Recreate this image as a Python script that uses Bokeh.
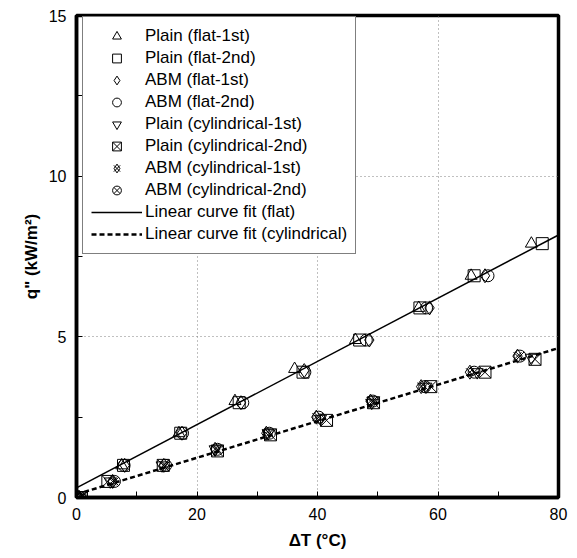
from bokeh.plotting import figure
from bokeh.models import Range1d, FixedTicker, Legend, LegendItem
from bokeh.embed import file_html
from bokeh.resources import INLINE

# ---- data ----
plain_flat1_x = [0.3, 7.5, 17.0, 26.3, 36.2, 46.3, 56.8, 65.5, 75.5]
plain_flat1_y = [0.0, 1.0, 2.0, 3.0, 4.0, 4.9, 5.9, 6.9, 7.9]
plain_flat2_x = [0.8, 7.8, 17.3, 27.0, 37.6, 47.0, 57.0, 66.0, 77.3]
plain_flat2_y = [0.0, 1.0, 2.0, 2.95, 3.9, 4.9, 5.9, 6.9, 7.9]
abm_flat1_x = [0.5, 8.0, 17.5, 27.3, 37.8, 48.6, 58.6, 67.8]
abm_flat1_y = [0.0, 1.0, 2.0, 2.95, 3.95, 4.9, 5.9, 6.9]
abm_flat2_x = [0.6, 7.9, 17.6, 27.6, 37.9, 48.1, 58.1, 68.3]
abm_flat2_y = [0.0, 1.0, 2.0, 2.95, 3.9, 4.9, 5.9, 6.9]

plain_cyl1_x = [0.2, 5.6, 14.2, 23.0, 31.8, 40.5, 49.0, 58.0, 66.5, 75.5]
plain_cyl1_y = [0.0, 0.5, 1.0, 1.5, 2.0, 2.45, 2.95, 3.45, 3.9, 4.35]
plain_cyl2_x = [0.8, 5.2, 14.4, 23.4, 32.2, 41.5, 49.3, 58.8, 67.8, 76.1]
plain_cyl2_y = [0.0, 0.5, 1.0, 1.45, 1.95, 2.4, 2.95, 3.45, 3.9, 4.3]
abm_cyl1_x = [0.3, 6.0, 14.5, 23.0, 31.5, 39.8, 48.8, 57.2, 65.3, 73.2]
abm_cyl1_y = [0.0, 0.5, 1.0, 1.5, 2.0, 2.5, 3.0, 3.45, 3.9, 4.4]
abm_cyl2_x = [0.5, 6.3, 14.8, 23.4, 32.0, 40.2, 49.2, 57.8, 66.0, 73.6]
abm_cyl2_y = [0.0, 0.5, 1.0, 1.5, 2.0, 2.5, 3.0, 3.45, 3.9, 4.4]

fit_x = [0, 80]
flat_fit_y = [0.3, 8.17]
cyl_fit_y = [0.1, 4.65]

x_ticks = [0, 20, 40, 60, 80]
x_minor = [10, 30, 50, 70]
y_ticks = [0, 5, 10, 15]
y_minor = [2.5, 7.5, 12.5]

FONT = "Liberation Sans"

p = figure(width=577, height=558, output_backend="svg", toolbar_location=None,
           x_range=Range1d(0, 80), y_range=Range1d(0, 15),
           min_border_left=76, min_border_right=19, min_border_top=15, min_border_bottom=61)

p.background_fill_color = "white"
p.outline_line_color = "black"
p.outline_line_width = 3.5

for ax in (p.xaxis[0], p.yaxis[0]):
    ax.axis_line_color = "black"
    ax.axis_line_width = 3.5
    ax.major_tick_in = 6
    ax.major_tick_out = 0
    ax.minor_tick_in = 6
    ax.minor_tick_out = 0
    ax.major_tick_line_color = "black"
    ax.minor_tick_line_color = "black"
    ax.major_tick_line_width = 1
    ax.minor_tick_line_width = 1
    ax.major_label_text_font = FONT
    ax.major_label_text_font_size = "16px"
    ax.major_label_text_color = "black"
    ax.axis_label_text_font = FONT
    ax.axis_label_text_font_size = "17px"
    ax.axis_label_text_font_style = "bold"
    ax.axis_label_text_color = "black"
    ax.major_label_standoff = 10

p.xaxis.ticker = FixedTicker(ticks=x_ticks, minor_ticks=x_minor)
p.yaxis.ticker = FixedTicker(ticks=y_ticks, minor_ticks=y_minor)
p.xaxis.axis_label = "ΔT (°C)"
p.yaxis.axis_label = 'q" (kW/m²)'
p.xaxis.axis_label_standoff = 8
p.yaxis.axis_label_standoff = 5

for g in (p.xgrid[0], p.ygrid[0]):
    g.grid_line_color = "#808080"
    g.grid_line_dash = "1 3"
    g.grid_line_width = 1
p.xgrid.ticker = FixedTicker(ticks=x_ticks)
p.ygrid.ticker = FixedTicker(ticks=y_ticks)

# fit lines
r_fit_flat = p.line(fit_x, flat_fit_y, line_color="black", line_width=1.5)
r_fit_cyl = p.line(fit_x, cyl_fit_y, line_color="black", line_width=2.5, line_dash="5 3")

mk = dict(size=12, fill_color=None, line_color="black", line_width=1)
r1 = p.scatter(plain_flat1_x, plain_flat1_y, marker="triangle", **mk)
r2 = p.scatter(plain_flat2_x, plain_flat2_y, marker="square", **mk)
r3 = p.scatter(abm_flat1_x, abm_flat1_y, marker="diamond", size=14, fill_color=None, line_color="black", line_width=1)
r4 = p.scatter(abm_flat2_x, abm_flat2_y, marker="circle", **mk)
r5 = p.scatter(plain_cyl1_x, plain_cyl1_y, marker="inverted_triangle", **mk)
r6 = p.scatter(plain_cyl2_x, plain_cyl2_y, marker="square_x", **mk)
r7a = p.scatter(abm_cyl1_x, abm_cyl1_y, marker="diamond", size=14, fill_color=None, line_color="black", line_width=1)
r7b = p.scatter(abm_cyl1_x, abm_cyl1_y, marker="x", size=11, fill_color=None, line_color="black", line_width=1)
r8 = p.scatter(abm_cyl2_x, abm_cyl2_y, marker="circle_x", **mk)

items = [
    LegendItem(label="Plain (flat-1st)", renderers=[r1]),
    LegendItem(label="Plain (flat-2nd)", renderers=[r2]),
    LegendItem(label="ABM (flat-1st)", renderers=[r3]),
    LegendItem(label="ABM (flat-2nd)", renderers=[r4]),
    LegendItem(label="Plain (cylindrical-1st)", renderers=[r5]),
    LegendItem(label="Plain (cylindrical-2nd)", renderers=[r6]),
    LegendItem(label="ABM (cylindrical-1st)", renderers=[r7a, r7b]),
    LegendItem(label="ABM (cylindrical-2nd)", renderers=[r8]),
    LegendItem(label="Linear curve fit (flat)", renderers=[r_fit_flat]),
    LegendItem(label="Linear curve fit (cylindrical)", renderers=[r_fit_cyl]),
]
legend = Legend(items=items, location=(6, 243))
legend.label_text_font = FONT
legend.label_text_font_size = "17px"
legend.label_text_color = "black"
legend.glyph_width = 51
legend.glyph_height = 22
legend.label_height = 22
legend.spacing = 0
legend.padding = 8
legend.margin = 0
legend.label_standoff = 3
legend.border_line_color = "black"
legend.border_line_width = 1
legend.background_fill_color = "white"
legend.background_fill_alpha = 1
p.add_layout(legend)

open("out.html", "w").write(file_html(p, INLINE))
